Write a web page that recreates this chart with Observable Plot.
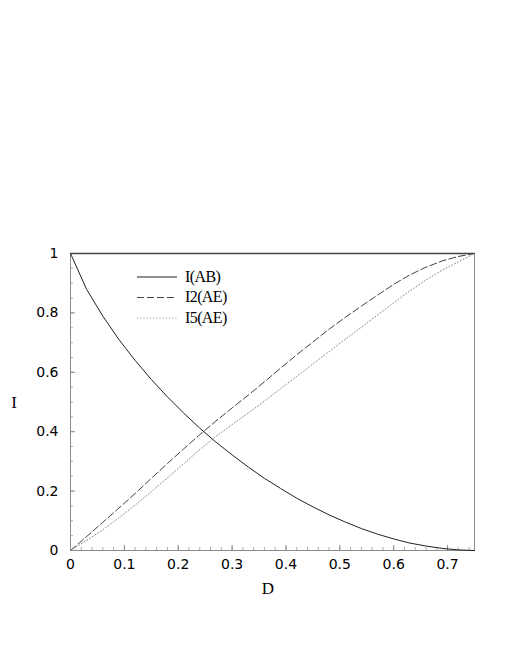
<!DOCTYPE html>
<html>
<head>
<meta charset="utf-8">
<script src="https://cdn.jsdelivr.net/npm/d3@7"></script>
<script src="https://cdn.jsdelivr.net/npm/@observablehq/plot@0.6"></script>
<style>
  html, body { margin: 0; padding: 0; background: #fff; }
  #chart svg { display: block; }
</style>
</head>
<body>
<div id="chart"></div>
<script>
// ---- data ----
const D      = [0, 0.03, 0.06, 0.09, 0.12, 0.15, 0.18, 0.21, 0.24, 0.27, 0.30, 0.33, 0.36, 0.39, 0.42, 0.45, 0.48, 0.51, 0.54, 0.57, 0.60, 0.63, 0.66, 0.69, 0.72, 0.75];
const I_AB   = [1, 0.879, 0.789, 0.710, 0.640, 0.576, 0.517, 0.463, 0.412, 0.365, 0.322, 0.281, 0.243, 0.209, 0.176, 0.147, 0.120, 0.096, 0.074, 0.055, 0.039, 0.025, 0.015, 0.007, 0.002, 0];
const I2_AE  = [0, 0.047, 0.095, 0.143, 0.192, 0.243, 0.293, 0.342, 0.390, 0.436, 0.480, 0.523, 0.568, 0.614, 0.659, 0.702, 0.745, 0.785, 0.823, 0.860, 0.896, 0.928, 0.954, 0.975, 0.990, 1];
const I5_AE  = [0, 0.034, 0.070, 0.110, 0.153, 0.198, 0.245, 0.292, 0.340, 0.384, 0.424, 0.463, 0.503, 0.545, 0.586, 0.628, 0.670, 0.711, 0.752, 0.793, 0.834, 0.874, 0.911, 0.944, 0.972, 1];
const seriesNames = ["I(AB)", "I2(AE)", "I5(AE)"];
const xTicks = [0, 0.1, 0.2, 0.3, 0.4, 0.5, 0.6, 0.7];
const yTicks = [0, 0.2, 0.4, 0.6, 0.8, 1];
const xMinor = d3.range(0, 38).map(i => +(i * 0.02).toFixed(2)).filter(v => v <= 0.75);
const yMinor = d3.range(0, 21).map(i => +(i * 0.05).toFixed(2));
const xDomain = [0, 0.75];
const yDomain = [0, 1];
const xLabel = "D";
const yLabel = "I";

// ---- styling ----
const styles = {
  "I(AB)":  {stroke: "#222", dash: null, width: 1},
  "I2(AE)": {stroke: "#444", dash: "7,3", width: 1},
  "I5(AE)": {stroke: "#8a8a8a", dash: "1,2.2", width: 1}
};
const seriesData = [I_AB, I2_AE, I5_AE];
const rows = seriesNames.map((name, s) => D.map((d, i) => ({D: d, I: seriesData[s][i], series: name})));

const W = 511, H = 661;
const mL = 70, mR = 37, mT = 253, mB = 111;
const frameW = W - mL - mR, frameH = H - mT - mB;
const fmt = d => d === 0 ? "0" : d === 1 ? "1" : String(d);

const plot = Plot.plot({
  width: W,
  height: H,
  marginLeft: mL,
  marginRight: mR,
  marginTop: mT,
  marginBottom: mB,
  style: {background: "#fff", color: "#000"},
  x: {domain: xDomain},
  y: {domain: yDomain},
  marks: [
    // minor and major inward ticks
    Plot.tickX(xMinor, {x: d => d, insetTop: frameH - 3, stroke: "#999", strokeWidth: 0.8}),
    Plot.tickX(xTicks, {x: d => d, insetTop: frameH - 5, stroke: "#888", strokeWidth: 1}),
    Plot.tickY(yMinor, {y: d => d, insetRight: frameW - 3, stroke: "#999", strokeWidth: 0.8}),
    Plot.tickY(yTicks, {y: d => d, insetRight: frameW - 5, stroke: "#888", strokeWidth: 1}),
    Plot.frame({stroke: "#8c8c8c", strokeWidth: 1}),
    Plot.ruleY([yDomain[1]], {stroke: "#444", strokeWidth: 1.4}),
    ...rows.map(r => Plot.line(r, {
      x: "D", y: "I",
      stroke: styles[r[0].series].stroke,
      strokeWidth: styles[r[0].series].width,
      strokeDasharray: styles[r[0].series].dash
    })),
    Plot.axisX({ticks: xTicks, tickSize: 0, tickPadding: 9, label: null,
      fontSize: 14, fontFamily: "DejaVu Sans", tickFormat: fmt}),
    Plot.axisY({ticks: yTicks, tickSize: 0, tickPadding: 12, label: null,
      fontSize: 14, fontFamily: "DejaVu Sans", tickFormat: fmt})
  ]
});

document.getElementById("chart").appendChild(plot);

const svg = d3.select(plot);
// axis titles
svg.append("text")
  .attr("x", mL + frameW / 2 - 4).attr("y", 594)
  .attr("text-anchor", "middle")
  .attr("font-family", "Liberation Serif, Times New Roman, serif")
  .attr("font-size", 17).attr("fill", "#000")
  .text(xLabel);
svg.append("text")
  .attr("x", 14).attr("y", mT + frameH / 2 + 6)
  .attr("text-anchor", "middle")
  .attr("font-family", "Liberation Serif, Times New Roman, serif")
  .attr("font-size", 17).attr("fill", "#000")
  .text(yLabel);

// legend
const legX0 = 137, legX1 = 177, legTextX = 185, legY0 = 277, legStep = 20.5;
seriesNames.forEach((name, i) => {
  const y = legY0 + i * legStep;
  const st = styles[name];
  svg.append("line")
    .attr("x1", legX0).attr("x2", legX1).attr("y1", y).attr("y2", y)
    .attr("stroke", st.stroke).attr("stroke-width", st.width)
    .attr("stroke-dasharray", st.dash);
  svg.append("text")
    .attr("x", legTextX).attr("y", y + 1)
    .attr("text-anchor", "start")
    .attr("dominant-baseline", "middle")
    .attr("font-family", "Liberation Serif, Times New Roman, serif")
    .attr("font-size", 16).attr("fill", "#000")
    .attr("letter-spacing", "-0.6")
    .text(name);
});
</script>
</body>
</html>
